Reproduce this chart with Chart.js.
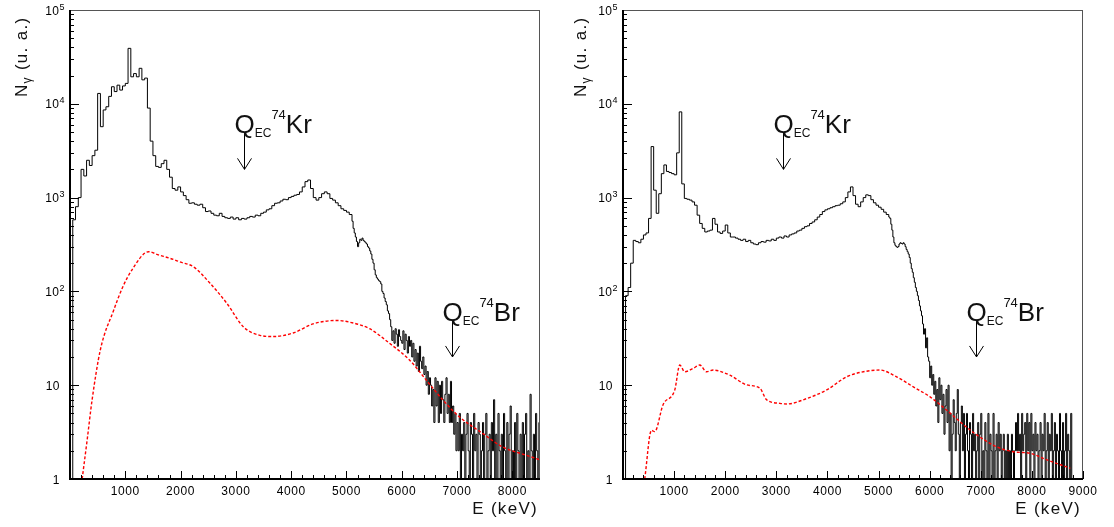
<!DOCTYPE html>
<html>
<head>
<meta charset="utf-8">
<script src="https://cdn.jsdelivr.net/npm/chart.js@4.4.1/dist/chart.umd.min.js"></script>
<style>
  html, body { margin: 0; padding: 0; background: #fff; }
  body { width: 1114px; height: 527px; position: relative; overflow: hidden; }
  .panel { position: absolute; top: 0; width: 557px; height: 527px; }
  #p-left  { left: 0; }
  #p-right { left: 557px; }
</style>
</head>
<body>
<div class="panel" id="p-left"><canvas id="c-left" width="557" height="527"></canvas></div>
<div class="panel" id="p-right"><canvas id="c-right" width="557" height="527"></canvas></div>
<script>
"use strict";

const $ = id => document.getElementById(id);

// ── Data: left spectrum (50 keV bins from 0, then 20 keV bins from 5100)
const leftMainStart = 0, leftMainBin = 50;
const leftMain = [
  1, 580, 800, 1000, 2000, 1700, 2500, 2200, 2800, 3200,
  12900, 5700, 8600, 9300, 12000, 15200, 13500, 15800, 14000, 15500,
  16500, 39000, 19400, 21000, 19400, 23900, 18000, 18800, 9000, 4000,
  2800, 2150, 2100, 2300, 2500, 2000, 1650, 1250, 1200, 1300,
  1150, 1050, 950, 870, 880, 850, 830, 850, 780, 710,
  720, 680, 650, 640, 680, 630, 610, 600, 620, 590,
  610, 580, 600, 590, 610, 630, 620, 650, 640, 680,
  700, 740, 760, 820, 870, 880, 920, 960, 950, 1000,
  1030, 1060, 1080, 1150, 1300, 1480, 1540, 1250, 1000, 940,
  1000, 1100, 1150, 1100, 980, 940, 880, 820, 760, 730,
  700, 660,
];
const leftTailStart = 5100, leftTailBin = 20;
const leftTail = [
  560, 470, 420, 380, 340, 300, 330, 360, 350, 370,
  350, 340, 330, 320, 300, 290, 270, 250, 220, 200,
  170, 150, 140, 135, 130, 127, 120, 100, 95, 85,
  78, 72, 62, 58, 50,
  42, 30, 38, 28, 40, 35, 26, 39, 33, 30,
  28, 38, 24, 35, 30, 22, 33, 26, 30, 20,
  28, 18, 24, 16, 22, 14, 26, 18, 15, 20,
  13, 16, 10, 14, 8, 12, 10, 6, 9, 4,
  12, 6, 11, 4, 10, 5, 11, 7, 4, 8,
  12, 5, 8, 4, 11, 4, 6, 3, 5, 2,
  4, 2, 5, 1, 3, 2, 4, 1, 3, 5,
  2, 1, 4, 3, 1, 5, 2, 3, 1, 4,
  3, 1, 2, 4, 1, 3, 5, 1, 2, 3,
  1, 4, 2, 7, 1, 3, 1, 5, 2, 1,
  3, 1, 5, 2, 1, 4, 1, 3, 6, 1,
  2, 1, 4, 1, 5, 2, 1, 3, 1, 4,
  1, 3, 5, 1, 2, 1, 8, 2, 1, 3,
  1, 5, 2, 1, 4,
];
const leftModelE = [220, 310, 400, 550, 790, 950, 1121, 1421, 1600, 1812, 2000, 2232, 2533, 2834, 3134, 3435, 3675, 4035, 4396, 4818, 5057, 5418, 5778, 6139, 6440, 6740, 7041, 7461, 7822, 8243, 8500];
const leftModelN = [1, 2.6, 7, 24, 63, 110, 170, 265, 245, 225, 205, 183, 122, 75, 42, 34, 33, 36, 45, 49, 47, 40, 28, 18.6, 11.4, 7, 4.6, 3.07, 2.2, 1.8, 1.6];

// ── Data: right spectrum (50 keV bins from 0, then 20 keV bins from 5200)
const rightMainStart = 0, rightMainBin = 50;
const rightMain = [
  1, 90, 110, 200, 350, 340, 330, 360, 400, 420,
  600, 3500, 1200, 680, 1100, 1800, 2230, 1900, 1850, 1800,
  1750, 3000, 8200, 1400, 980, 960, 940, 900, 830, 650,
  530, 470, 430, 440, 450, 600, 520, 430, 415, 440,
  510, 420, 380, 380, 370, 360, 350, 360, 340, 350,
  330, 320, 315, 330, 340, 335, 350, 345, 360, 350,
  370, 380, 370, 390, 380, 400, 410, 420, 440, 450,
  470, 490, 500, 530, 550, 580, 620, 660, 710, 740,
  760, 780, 800, 820, 830, 860, 900, 1000, 1150, 1300,
  1050, 850, 800, 900, 1000, 1070, 1050, 950, 880, 830,
  790, 750, 700, 660,
];
const rightTailStart = 5200, rightTailBin = 20;
const rightTail = [
  620, 600, 520, 450, 380, 330, 310, 300, 295, 300,
  320, 330, 325, 320, 330, 320, 300, 280, 265, 250,
  230, 200, 175, 160, 140, 125, 110, 100, 90, 80,
  70, 62, 55, 45, 35,
  40, 25, 32, 20, 18, 12, 16, 10, 13, 8,
  11, 6, 9, 4, 12, 7, 10, 5, 8, 3,
  6, 9, 4, 10, 2, 5, 1, 3, 7, 4,
  2, 5, 9, 3, 1, 4, 6, 2, 5, 1,
  3, 5, 2, 1, 4, 3, 1, 5, 2, 3,
  1, 2, 4, 1, 3, 5, 1, 2, 1, 4,
  2, 1, 5, 1, 3, 2, 1, 5, 1, 2,
  3, 1, 4, 2, 3, 1, 2, 3, 1, 2,
  1, 3, 1, 2, 1, 3, 2, 1, 2, 4,
  2, 5, 2, 3, 1, 5, 2, 3, 4, 1,
  5, 2, 4, 1, 5, 2, 3, 1, 4, 2,
  3, 1, 2, 4, 1, 3, 2, 5, 1, 2,
  4, 1, 3, 2, 5, 1, 2, 4, 1, 3,
  2, 1, 5, 2, 1, 4, 1, 2, 5, 1,
  3, 2, 1, 5, 1,
];
const rightModelE = [425, 556, 621, 784, 1013, 1111, 1208, 1371, 1503, 1634, 1763, 2090, 2417, 2678, 2809, 3070, 3201, 3593, 3985, 4377, 4702, 5025, 5352, 5681, 6009, 6336, 6660, 6923, 7315, 7640, 7967, 8294, 8751];
const rightModelN = [1, 3.3, 3.2, 6.2, 8.9, 16.4, 13.9, 15.1, 16.4, 13.9, 14.5, 12.8, 10.1, 9.3, 7, 6.4, 6.3, 7.2, 8.9, 12.3, 13.9, 14.5, 12.3, 9.6, 7.5, 5.4, 3.8, 2.95, 2.2, 1.95, 1.88, 1.6, 1.3];

// ── Axes / labels
const leftXTicks  = [1000, 2000, 3000, 4000, 5000, 6000, 7000, 8000];
const rightXTicks = [1000, 2000, 3000, 4000, 5000, 6000, 7000, 8000, 9000];
const yDecades    = [1, 10, 100, 1000, 10000, 100000];
const yMantissa   = ["1", "10", "10", "10", "10", "10"];
const yExponent   = ["", "", "2", "3", "4", "5"];

// ── Q_EC markers: energy, arrow top / tip counts, nucleus
const markerE    = [3140, 6907];
const markerTop  = [5000, 50];
const markerTip  = [2000, 20];
const markerName = ["Kr", "Br"];

// ── Helpers
const FONT = '"Liberation Sans", Arial, sans-serif';

function histPoints(start, bin, counts, tStart, tBin, tail) {
  const pts = counts.map((c, i) => ({ x: start + i * bin, y: c }));
  tail.forEach((c, i) => pts.push({ x: tStart + i * tBin, y: c }));
  pts.push({ x: tStart + tail.length * tBin, y: tail[tail.length - 1] });
  return pts;
}

const zipXY = (xs, ys) => xs.map((x, i) => ({ x, y: ys[i] }));

function richWidth(ctx, parts) {
  let w = 0;
  parts.forEach(([t, size]) => { ctx.font = `${size}px ${FONT}`; w += ctx.measureText(t).width; });
  return w;
}

function drawRich(ctx, x, y, parts) {
  let cx = x;
  parts.forEach(([t, size, dy]) => {
    ctx.font = `${size}px ${FONT}`;
    ctx.fillText(t, cx, y + dy);
    cx += ctx.measureText(t).width;
  });
  return cx;
}

function seg(ctx, x1, y1, x2, y2) {
  ctx.beginPath(); ctx.moveTo(x1, y1); ctx.lineTo(x2, y2); ctx.stroke();
}

// ── ROOT-style frame, ticks and texts
const rootAxes = {
  id: "rootAxes",
  afterDatasetsDraw(chart, args, o) {
    const { ctx, chartArea: a, scales: { x, y } } = chart;
    ctx.save();
    ctx.fillStyle = "#000";
    ctx.textAlign = "left";
    ctx.textBaseline = "alphabetic";

    // frame
    ctx.strokeStyle = "#555"; ctx.lineWidth = 1;
    ctx.strokeRect(a.left + 0.5, a.top + 0.5, a.right - a.left - 1, a.bottom - a.top - 1);
    ctx.strokeStyle = "#000"; ctx.lineWidth = 2;
    ctx.beginPath(); ctx.moveTo(a.left, a.top); ctx.lineTo(a.left, a.bottom); ctx.lineTo(a.right, a.bottom); ctx.stroke();

    // y ticks (inside)
    ctx.lineWidth = 1;
    for (let d = 0; d < 5; d++) {
      for (let m = 1; m <= 9; m++) {
        const py = Math.round(y.getPixelForValue(m * 10 ** d)) + 0.5;
        seg(ctx, a.left, py, a.left + (m === 1 ? 9 : 4), py);
      }
    }
    // x ticks (inside)
    for (let e = 0; e <= x.max; e += 200) {
      const px = Math.round(x.getPixelForValue(e)) + 0.5;
      seg(ctx, px, a.bottom, px, a.bottom - (e % 1000 === 0 ? 8 : 4));
    }

    // y labels
    ctx.letterSpacing = "0.5px";
    yDecades.forEach((v, i) => {
      const py = y.getPixelForValue(v);
      const parts = [[yMantissa[i], 12, 0]];
      if (yExponent[i]) parts.push([yExponent[i], 9, -5]);
      const w = richWidth(ctx, parts);
      const right = a.left - (yExponent[i] ? 5 : 10);
      drawRich(ctx, right - w, py + 4.5, parts);
    });

    // x labels
    ctx.letterSpacing = "0.6px";
    ctx.font = `12px ${FONT}`;
    ctx.textAlign = "center";
    o.xTicks.forEach(v => ctx.fillText(String(v), x.getPixelForValue(v), a.bottom + 16));
    ctx.textAlign = "left";

    // axis titles
    ctx.fillStyle = "#111";
    ctx.letterSpacing = "1.3px";
    const tParts = [["E (keV)", 17, 0]];
    drawRich(ctx, a.right - 2 - richWidth(ctx, tParts), a.bottom + 35, tParts);

    ctx.save();
    ctx.translate(o.yTitleX, 97);
    ctx.rotate(-Math.PI / 2);
    drawRich(ctx, 0, 0, [["N", 17, 0], ["γ", 12, 4], [" (u. a.)", 17, 0]]);
    ctx.restore();

    // Q_EC markers
    ctx.letterSpacing = "0px";
    ctx.strokeStyle = "#000"; ctx.lineWidth = 1;
    markerE.forEach((e, i) => {
      const px = Math.round(x.getPixelForValue(e)) + 0.5;
      const top = y.getPixelForValue(markerTop[i]);
      const tip = y.getPixelForValue(markerTip[i]);
      seg(ctx, px, top, px, tip);
      ctx.beginPath();
      ctx.moveTo(px - 7, tip - 11); ctx.lineTo(px, tip); ctx.lineTo(px + 7, tip - 11);
      ctx.stroke();
      drawRich(ctx, px - 10, top + 1, [["Q", 26, 0], ["EC", 12, 4], ["74", 13, -14], [markerName[i], 26, 0]]);
    });

    ctx.restore();
  },
};

// ── Charts
function makeChart(id, cfg) {
  return new Chart($(id).getContext("2d"), {
    type: "line",
    data: { datasets: [
      { data: cfg.model, borderColor: "#ff0000", borderWidth: 1.4, borderDash: [3, 2], pointRadius: 0, cubicInterpolationMode: "monotone", fill: false },
      { data: cfg.hist,  borderColor: "#000000", borderWidth: 1,   stepped: true, pointRadius: 0, fill: false },
    ]},
    options: {
      responsive: false, animation: false, events: [],
      layout: { padding: cfg.pad },
      plugins: { legend: { display: false }, tooltip: { enabled: false }, rootAxes: cfg.axes },
      scales: {
        x: { type: "linear", min: 0, max: cfg.xMax, display: false },
        y: { type: "logarithmic", min: 1, max: 100000, display: false },
      },
    },
    plugins: [rootAxes],
  });
}

makeChart("c-left", {
  hist:  histPoints(leftMainStart, leftMainBin, leftMain, leftTailStart, leftTailBin, leftTail),
  model: zipXY(leftModelE, leftModelN),
  xMax:  8500,
  pad:   { left: 70, right: 17, top: 10, bottom: 48 },
  axes:  { xTicks: leftXTicks, yTitleX: 27 },
});

makeChart("c-right", {
  hist:  histPoints(rightMainStart, rightMainBin, rightMain, rightTailStart, rightTailBin, rightTail),
  model: zipXY(rightModelE, rightModelN),
  xMax:  9000,
  pad:   { left: 66, right: 31, top: 10, bottom: 48 },
  axes:  { xTicks: rightXTicks, yTitleX: 29 },
});
</script>
</body>
</html>
